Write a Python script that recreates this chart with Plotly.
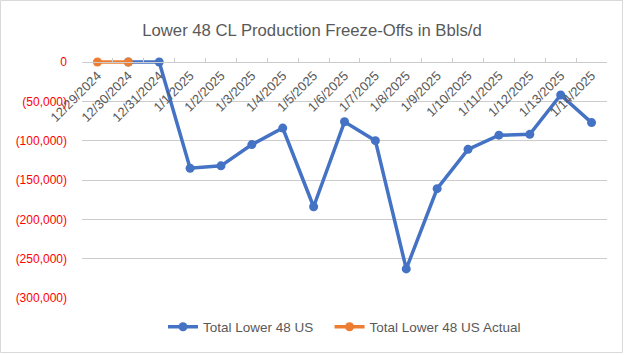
import plotly.graph_objects as go

categories = ["12/29/2024", "12/30/2024", "12/31/2024", "1/1/2025", "1/2/2025", "1/3/2025",
              "1/4/2025", "1/5/2025", "1/6/2025", "1/7/2025", "1/8/2025", "1/9/2025",
              "1/10/2025", "1/11/2025", "1/12/2025", "1/13/2025", "1/14/2025"]
total_lower48 = [None, 0, 0, -135000, -132000, -105000, -84000, -184000, -76000, -100000,
                 -263000, -161000, -111000, -93000, -92000, -42000, -77000]
total_lower48_actual = [0, 0, None, None, None, None, None, None, None, None,
                        None, None, None, None, None, None, None]
y_tick_vals = [0, -50000, -100000, -150000, -200000, -250000, -300000]
y_tick_text = ["0", "(50,000)", "(100,000)", "(150,000)", "(200,000)", "(250,000)", "(300,000)"]

FONT = "Liberation Sans"
GRAY = "#595959"

fig = go.Figure()
fig.add_trace(go.Scatter(x=categories, y=total_lower48, name="Total Lower 48 US\u00a0\u00a0\u00a0",
                         mode="lines+markers", line=dict(color="#4472C4", width=3.5),
                         marker=dict(size=9, color="#4472C4"), cliponaxis=False))
fig.add_trace(go.Scatter(x=categories, y=total_lower48_actual, name="Total Lower 48 US Actual",
                         mode="lines+markers", line=dict(color="#ED7D31", width=3.5),
                         marker=dict(size=9, color="#ED7D31"), cliponaxis=False))

W, H = 624, 355
px_left, px_right = 82, 607
px_zero, px_bottom = 62, 298
y_min, y_max = -300000, 0
pad = 8
scale = (y_max - y_min) / (px_bottom - px_zero)
y_top = y_max + pad * scale

L, R = px_left, W - px_right
T, B = px_zero - pad, H - px_bottom
pw, ph = W - L - R, H - T - B
zero_pos = (0 - y_min) / (y_top - y_min)

fig.update_layout(
    width=W, height=H,
    margin=dict(l=L, r=R, t=T, b=B, autoexpand=False),
    paper_bgcolor="white", plot_bgcolor="white",
    font=dict(family=FONT, color=GRAY, size=12),
    title=dict(text="Lower 48 CL Production Freeze-Offs in Bbls/d", x=0.5, xanchor="center",
               y=1 - 30 / H, yanchor="middle", font=dict(size=16.7, color=GRAY, family=FONT)),
    xaxis=dict(type="category", anchor="free", position=zero_pos, side="bottom",
               tickangle=-45, showgrid=False, showline=True, linecolor="#cccccc", linewidth=1,
               ticks="inside", tickson="boundaries", ticklen=4, tickcolor="#cccccc",
               tickfont=dict(size=13, color=GRAY, family=FONT), range=[-0.5, 16.5],
               automargin=False),
    yaxis=dict(range=[y_min, y_top], tickvals=y_tick_vals, ticktext=y_tick_text,
               showgrid=True, gridcolor="#cccccc", gridwidth=1, zeroline=False,
               tickfont=dict(size=12, color="#FF0000", family=FONT), ticks="",
               ticklabelstandoff=14, automargin=False),
    legend=dict(orientation="h", x=0.5, xanchor="center", y=-(327 - px_bottom) / ph,
                yanchor="middle", font=dict(size=13.5, color=GRAY, family=FONT),
                itemwidth=30, tracegroupgap=0),
    showlegend=True,
)

fig.add_shape(type="rect", xref="paper", yref="paper",
              x0=-(L - 0.5) / pw, x1=1 + (R - 1.5) / pw,
              y0=-(B - 2.5) / ph, y1=1 + (T - 0.5) / ph,
              line=dict(color="#d9d9d9", width=1), layer="above")

fig.write_html("out.html", config={"displayModeBar": False},
               post_script="document.body.style.margin='0';document.body.style.overflow='hidden';")
